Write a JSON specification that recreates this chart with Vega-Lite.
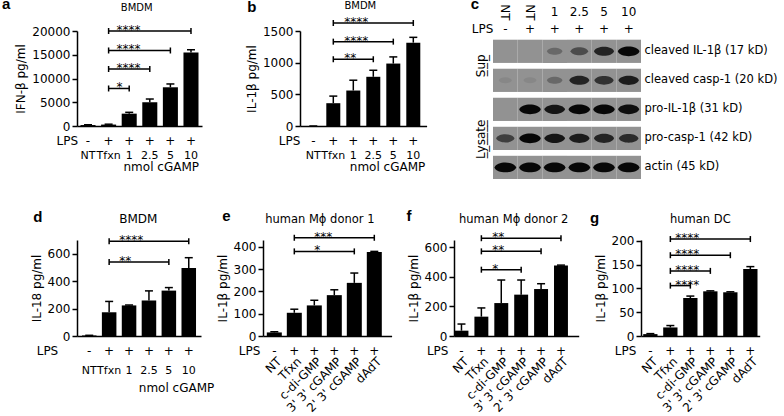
{
  "$schema": "https://vega.github.io/schema/vega-lite/v6.json",
  "padding": {"left": 2, "top": -3, "right": 0, "bottom": 0},
  "config": {
    "font": "DejaVu Sans",
    "view": {"stroke": null},
    "axis": {"grid": false, "domainColor": "black", "domainWidth": 1.5, "tickColor": "black", "tickWidth": 1.5, "tickSize": 5, "labelColor": "black", "titleColor": "black", "labelFont": "DejaVu Sans", "titleFont": "DejaVu Sans", "labelFontSize": 12, "titleFontSize": 12, "titleFontWeight": "normal", "labelPadding": 2, "labelOverlap": false},
    "axisX": {"ticks": false, "labelAngle": 0, "labelOverlap": false},
    "text": {"font": "DejaVu Sans", "fontSize": 12, "color": "black"}
  },
  "datasets": {
    "a": [
      {"cond": "NT", "lps": "-", "mean": 200, "hi": 260},
      {"cond": "Tfxn", "lps": "+", "mean": 300, "hi": 380},
      {"cond": "1", "lps": "+", "mean": 2600, "hi": 2880},
      {"cond": "2.5", "lps": "+", "mean": 5000, "hi": 5680},
      {"cond": "5", "lps": "+", "mean": 8150, "hi": 8850},
      {"cond": "10", "lps": "+", "mean": 15450, "hi": 16050}
    ],
    "a_sig": [
      {"from": "Tfxn", "to": "10", "y": 20000, "stars": "****"},
      {"from": "Tfxn", "to": "5", "y": 15900, "stars": "****"},
      {"from": "Tfxn", "to": "2.5", "y": 12000, "stars": "****"},
      {"from": "Tfxn", "to": "1", "y": 7900, "stars": "*"}
    ],
    "b": [
      {"cond": "NT", "lps": "-", "mean": 0, "hi": 0},
      {"cond": "Tfxn", "lps": "+", "mean": 360, "hi": 472},
      {"cond": "1", "lps": "+", "mean": 560, "hi": 723},
      {"cond": "2.5", "lps": "+", "mean": 777, "hi": 880},
      {"cond": "5", "lps": "+", "mean": 986, "hi": 1091},
      {"cond": "10", "lps": "+", "mean": 1316, "hi": 1400}
    ],
    "b_sig": [
      {"from": "Tfxn", "to": "10", "y": 1626, "stars": "****"},
      {"from": "Tfxn", "to": "5", "y": 1332, "stars": "****"},
      {"from": "Tfxn", "to": "2.5", "y": 1054, "stars": "**"}
    ],
    "d": [
      {"cond": "NT", "lps": "-", "mean": 4, "hi": 5},
      {"cond": "Tfxn", "lps": "+", "mean": 173, "hi": 252},
      {"cond": "1", "lps": "+", "mean": 223, "hi": 226},
      {"cond": "2.5", "lps": "+", "mean": 259, "hi": 329},
      {"cond": "5", "lps": "+", "mean": 331, "hi": 353},
      {"cond": "10", "lps": "+", "mean": 495, "hi": 571}
    ],
    "d_sig": [
      {"from": "Tfxn", "to": "10", "y": 690, "stars": "****"},
      {"from": "Tfxn", "to": "5", "y": 540, "stars": "**"}
    ],
    "e": [
      {"cond": "NT", "lps": "-", "mean": 16, "hi": 19},
      {"cond": "Tfxn", "lps": "+", "mean": 104, "hi": 120},
      {"cond": "c-di-GMP", "lps": "+", "mean": 137, "hi": 160},
      {"cond": "3' 3' cGAMP", "lps": "+", "mean": 183, "hi": 207},
      {"cond": "2' 3' cGAMP", "lps": "+", "mean": 238, "hi": 282},
      {"cond": "dAdT", "lps": "+", "mean": 376, "hi": 379}
    ],
    "e_sig": [
      {"from": "Tfxn", "to": "dAdT", "y": 440, "stars": "***"},
      {"from": "Tfxn", "to": "2' 3' cGAMP", "y": 379, "stars": "*"}
    ],
    "f": [
      {"cond": "NT", "lps": "-", "mean": 36, "hi": 81},
      {"cond": "Tfxn", "lps": "+", "mean": 131, "hi": 190},
      {"cond": "c-di-GMP", "lps": "+", "mean": 223, "hi": 379},
      {"cond": "3' 3' cGAMP", "lps": "+", "mean": 280, "hi": 379},
      {"cond": "2' 3' cGAMP", "lps": "+", "mean": 318, "hi": 354},
      {"cond": "dAdT", "lps": "+", "mean": 478, "hi": 480}
    ],
    "f_sig": [
      {"from": "Tfxn", "to": "dAdT", "y": 662, "stars": "**"},
      {"from": "Tfxn", "to": "2' 3' cGAMP", "y": 573, "stars": "**"},
      {"from": "Tfxn", "to": "3' 3' cGAMP", "y": 449, "stars": "*"}
    ],
    "g": [
      {"cond": "NT", "lps": "-", "mean": 4, "hi": 5},
      {"cond": "Tfxn", "lps": "+", "mean": 18, "hi": 22},
      {"cond": "c-di-GMP", "lps": "+", "mean": 80, "hi": 84},
      {"cond": "3' 3' cGAMP", "lps": "+", "mean": 94, "hi": 95},
      {"cond": "2' 3' cGAMP", "lps": "+", "mean": 92, "hi": 93},
      {"cond": "dAdT", "lps": "+", "mean": 141, "hi": 146}
    ],
    "g_sig": [
      {"from": "Tfxn", "to": "dAdT", "y": 204, "stars": "****"},
      {"from": "Tfxn", "to": "2' 3' cGAMP", "y": 170, "stars": "****"},
      {"from": "Tfxn", "to": "3' 3' cGAMP", "y": 137, "stars": "****"},
      {"from": "Tfxn", "to": "c-di-GMP", "y": 106, "stars": "****"}
    ],
    "blot": [
      {"lane": "NT-", "row": "cleaved IL-1β (17 kD)", "intensity": 0},
      {"lane": "NT+", "row": "cleaved IL-1β (17 kD)", "intensity": 0},
      {"lane": "1", "row": "cleaved IL-1β (17 kD)", "intensity": 0.3},
      {"lane": "2.5", "row": "cleaved IL-1β (17 kD)", "intensity": 0.5},
      {"lane": "5", "row": "cleaved IL-1β (17 kD)", "intensity": 0.8},
      {"lane": "10", "row": "cleaved IL-1β (17 kD)", "intensity": 1},
      {"lane": "NT-", "row": "cleaved casp-1 (20 kD)", "intensity": 0.08},
      {"lane": "NT+", "row": "cleaved casp-1 (20 kD)", "intensity": 0.08},
      {"lane": "1", "row": "cleaved casp-1 (20 kD)", "intensity": 0.3},
      {"lane": "2.5", "row": "cleaved casp-1 (20 kD)", "intensity": 0.8},
      {"lane": "5", "row": "cleaved casp-1 (20 kD)", "intensity": 0.7},
      {"lane": "10", "row": "cleaved casp-1 (20 kD)", "intensity": 0.85},
      {"lane": "NT-", "row": "pro-IL-1β (31 kD)", "intensity": 0},
      {"lane": "NT+", "row": "pro-IL-1β (31 kD)", "intensity": 1},
      {"lane": "1", "row": "pro-IL-1β (31 kD)", "intensity": 0.9},
      {"lane": "2.5", "row": "pro-IL-1β (31 kD)", "intensity": 1},
      {"lane": "5", "row": "pro-IL-1β (31 kD)", "intensity": 1},
      {"lane": "10", "row": "pro-IL-1β (31 kD)", "intensity": 0.95},
      {"lane": "NT-", "row": "pro-casp-1 (42 kD)", "intensity": 0.6},
      {"lane": "NT+", "row": "pro-casp-1 (42 kD)", "intensity": 1},
      {"lane": "1", "row": "pro-casp-1 (42 kD)", "intensity": 0.9},
      {"lane": "2.5", "row": "pro-casp-1 (42 kD)", "intensity": 0.85},
      {"lane": "5", "row": "pro-casp-1 (42 kD)", "intensity": 0.8},
      {"lane": "10", "row": "pro-casp-1 (42 kD)", "intensity": 0.75},
      {"lane": "NT-", "row": "actin (45 kD)", "intensity": 1},
      {"lane": "NT+", "row": "actin (45 kD)", "intensity": 1},
      {"lane": "1", "row": "actin (45 kD)", "intensity": 1},
      {"lane": "2.5", "row": "actin (45 kD)", "intensity": 1},
      {"lane": "5", "row": "actin (45 kD)", "intensity": 1},
      {"lane": "10", "row": "actin (45 kD)", "intensity": 1}
    ],
    "c_lanes": [
      {"lane": "NT-", "label": "NT", "lps": "-"},
      {"lane": "NT+", "label": "NT", "lps": "+"},
      {"lane": "1", "label": "1", "lps": "+"},
      {"lane": "2.5", "label": "2.5", "lps": "+"},
      {"lane": "5", "label": "5", "lps": "+"},
      {"lane": "10", "label": "10", "lps": "+"}
    ]
  },
  "spacing": 29,
  "vconcat": [
    {
      "spacing": 43,
      "hconcat": [
        {
          "width": 125, "height": 95,
          "layer": [
            {
              "data": {"name": "a"},
              "encoding": {"x": {"field": "cond", "type": "nominal", "sort": null, "title": null, "scale": {"domain": ["NT", "Tfxn", "1", "2.5", "5", "10"], "paddingInner": 0.27, "paddingOuter": 0.17}, "axis": {"labelPadding": 23, "labelFontSize": 11}}},
              "layer": [
                {"mark": {"type": "bar", "color": "black"}, "encoding": {"y": {"field": "mean", "type": "quantitative", "title": "IFN-β pg/ml", "scale": {"domain": [0, 20000], "nice": false}, "axis": {"values": [0, 5000, 10000, 15000, 20000], "format": "d", "tickCount": 20, "labelOverlap": false}}}},
                {"mark": {"type": "rule", "strokeWidth": 1.5, "color": "black"}, "encoding": {"y": {"field": "mean", "type": "quantitative", "title": "IFN-β pg/ml"}, "y2": {"field": "hi"}}},
                {"mark": {"type": "tick", "thickness": 1.5, "size": 8, "color": "black", "opacity": 1}, "encoding": {"y": {"field": "hi", "type": "quantitative", "title": "IFN-β pg/ml"}}},
                {"mark": {"type": "text", "dy": 15, "color": "black"}, "encoding": {"y": {"datum": 0}, "text": {"field": "lps"}}}
              ]
            },
            {
              "data": {"name": "a_sig"},
              "encoding": {"y": {"field": "y", "type": "quantitative", "title": "IFN-β pg/ml"}},
              "layer": [
                {"mark": {"type": "rule", "strokeWidth": 1.5, "color": "black"}, "encoding": {"x": {"field": "from", "type": "nominal", "title": null}, "x2": {"field": "to"}}},
                {"mark": {"type": "point", "shape": "M0,-1V1", "size": 36, "strokeWidth": 1.5, "color": "black", "filled": false, "opacity": 1}, "encoding": {"x": {"field": "from", "type": "nominal", "title": null}}},
                {"mark": {"type": "point", "shape": "M0,-1V1", "size": 36, "strokeWidth": 1.5, "color": "black", "filled": false, "opacity": 1}, "encoding": {"x": {"field": "to", "type": "nominal", "title": null}}},
                {"mark": {"type": "text", "align": "left", "baseline": "alphabetic", "dx": 8, "dy": 3, "color": "black"}, "encoding": {"x": {"field": "from", "type": "nominal", "title": null}, "text": {"field": "stars"}}}
              ]
            },
            {
              "data": {"values": [{}]},
              "layer": [
                {"mark": {"type": "text", "text": "a", "font": "Liberation Sans", "fontWeight": "bold", "fontSize": 15, "align": "left", "baseline": "alphabetic", "dx": -86, "dy": -22}, "encoding": {"x": {"datum": "NT"}, "y": {"datum": 20000}}},
                {"mark": {"type": "text", "text": "BMDM", "fontSize": 10, "baseline": "alphabetic", "dx": 7.5, "dy": -20}, "encoding": {"x": {"datum": "1"}, "y": {"datum": 20000}}},
                {"mark": {"type": "text", "text": "LPS", "align": "right", "dx": -10, "dy": 15}, "encoding": {"x": {"datum": "NT"}, "y": {"datum": 0}}},
                {"mark": {"type": "text", "text": "nmol cGAMP", "align": "right", "dx": 8, "dy": 41}, "encoding": {"x": {"datum": "10"}, "y": {"datum": 0}}}
              ]
            }
          ]
        },
        {
          "width": 126.6, "height": 95,
          "layer": [
            {
              "data": {"name": "b"},
              "encoding": {"x": {"field": "cond", "type": "nominal", "sort": null, "title": null, "scale": {"domain": ["NT", "Tfxn", "1", "2.5", "5", "10"], "paddingInner": 0.3, "paddingOuter": 0.315}, "axis": {"labelPadding": 23, "labelFontSize": 11}}},
              "layer": [
                {"mark": {"type": "bar", "color": "black"}, "encoding": {"y": {"field": "mean", "type": "quantitative", "title": "IL-1β pg/ml", "scale": {"domain": [0, 1500], "nice": false}, "axis": {"values": [0, 500, 1000, 1500], "format": "d", "tickCount": 20, "labelOverlap": false}}}},
                {"mark": {"type": "rule", "strokeWidth": 1.5, "color": "black"}, "encoding": {"y": {"field": "mean", "type": "quantitative", "title": "IL-1β pg/ml"}, "y2": {"field": "hi"}}},
                {"mark": {"type": "tick", "thickness": 1.5, "size": 8, "color": "black", "opacity": 1}, "encoding": {"y": {"field": "hi", "type": "quantitative", "title": "IL-1β pg/ml"}}},
                {"mark": {"type": "text", "dy": 15, "color": "black"}, "encoding": {"y": {"datum": 0}, "text": {"field": "lps"}}}
              ]
            },
            {
              "data": {"name": "b_sig"},
              "encoding": {"y": {"field": "y", "type": "quantitative", "title": "IL-1β pg/ml"}},
              "layer": [
                {"mark": {"type": "rule", "strokeWidth": 1.5, "color": "black"}, "encoding": {"x": {"field": "from", "type": "nominal", "title": null}, "x2": {"field": "to"}}},
                {"mark": {"type": "point", "shape": "M0,-1V1", "size": 36, "strokeWidth": 1.5, "color": "black", "filled": false, "opacity": 1}, "encoding": {"x": {"field": "from", "type": "nominal", "title": null}}},
                {"mark": {"type": "point", "shape": "M0,-1V1", "size": 36, "strokeWidth": 1.5, "color": "black", "filled": false, "opacity": 1}, "encoding": {"x": {"field": "to", "type": "nominal", "title": null}}},
                {"mark": {"type": "text", "align": "left", "baseline": "alphabetic", "dx": 11, "dy": 3, "color": "black"}, "encoding": {"x": {"field": "from", "type": "nominal", "title": null}, "text": {"field": "stars"}}}
              ]
            },
            {
              "data": {"values": [{}]},
              "layer": [
                {"mark": {"type": "text", "text": "b", "font": "Liberation Sans", "fontWeight": "bold", "fontSize": 15, "align": "left", "baseline": "alphabetic", "dx": -66, "dy": -19.5}, "encoding": {"x": {"datum": "NT"}, "y": {"datum": 1500}}},
                {"mark": {"type": "text", "text": "BMDM", "fontSize": 10, "baseline": "alphabetic", "dx": 7, "dy": -22}, "encoding": {"x": {"datum": "1"}, "y": {"datum": 1500}}},
                {"mark": {"type": "text", "text": "LPS", "align": "right", "dx": -13, "dy": 15}, "encoding": {"x": {"datum": "NT"}, "y": {"datum": 0}}},
                {"mark": {"type": "text", "text": "nmol cGAMP", "align": "right", "dx": 12, "dy": 41}, "encoding": {"x": {"datum": "10"}, "y": {"datum": 0}}}
              ]
            }
          ]
        },
        {
          "width": 148, "height": 148,
          "layer": [
            {
              "data": {"name": "blot"},
              "mark": {"type": "rect", "color": "#929292"},
              "encoding": {
                "x": {"field": "lane", "type": "nominal", "sort": null, "title": null, "scale": {"domain": ["NT-", "NT+", "1", "2.5", "5", "10"], "paddingInner": 0, "paddingOuter": 0}, "axis": null},
                "y": {"field": "row", "type": "nominal", "sort": null, "title": null, "scale": {"domain": ["cleaved IL-1β (17 kD)", "cleaved casp-1 (20 kD)", "pro-IL-1β (31 kD)", "pro-casp-1 (42 kD)", "actin (45 kD)"], "paddingInner": 0.2, "paddingOuter": 0.15, "align": 1}, "axis": {"orient": "right", "domain": false, "ticks": false, "labelPadding": 3, "labelFontSize": 11.5}}
              }
            },
            {
              "data": {"name": "blot"},
              "mark": {"type": "point", "shape": "M-1,0C-0.8,-0.6 0.8,-0.6 1,0C0.8,0.6 -0.8,0.6 -1,0Z", "filled": true, "color": "black", "strokeWidth": 0},
              "encoding": {
                "x": {"field": "lane", "type": "nominal", "title": null},
                "y": {"field": "row", "type": "nominal", "title": null},
                "size": {"field": "intensity", "type": "quantitative", "scale": {"domain": [0, 1], "range": [150, 470]}, "legend": null},
                "opacity": {"field": "intensity", "type": "quantitative", "scale": {"domain": [0, 1], "range": [0, 0.95]}, "legend": null}
              }
            },
            {
              "data": {"name": "c_lanes"},
              "transform": [{"filter": "datum.label === 'NT'"}],
              "mark": {"type": "text", "angle": 90, "dx": -39},
              "encoding": {
                "x": {"field": "lane", "type": "nominal", "title": null},
                "y": {"datum": "cleaved IL-1β (17 kD)"},
                "text": {"field": "label"}
              }
            },
            {
              "data": {"name": "c_lanes"},
              "transform": [{"filter": "datum.label !== 'NT'"}],
              "mark": {"type": "text", "dy": -39},
              "encoding": {
                "x": {"field": "lane", "type": "nominal", "title": null},
                "y": {"datum": "cleaved IL-1β (17 kD)"},
                "text": {"field": "label"}
              }
            },
            {
              "data": {"name": "c_lanes"},
              "mark": {"type": "text", "dy": -22},
              "encoding": {
                "x": {"field": "lane", "type": "nominal", "title": null},
                "y": {"datum": "cleaved IL-1β (17 kD)"},
                "text": {"field": "lps"}
              }
            },
            {
              "data": {"values": [{}]},
              "layer": [
                {"mark": {"type": "text", "text": "c", "font": "Liberation Sans", "fontWeight": "bold", "fontSize": 15, "align": "left", "baseline": "alphabetic", "dx": -34.7, "dy": -42.3}, "encoding": {"x": {"datum": "NT-"}, "y": {"datum": "cleaved IL-1β (17 kD)"}}},
                {"mark": {"type": "text", "text": "LPS", "align": "right", "dx": -12, "dy": -22}, "encoding": {"x": {"datum": "NT-"}, "y": {"datum": "cleaved IL-1β (17 kD)"}}},
                {"mark": {"type": "text", "text": "S̲u̲p̲", "angle": 270, "dx": -14.5, "dy": -24.5}, "encoding": {"x": {"datum": "NT-"}, "y": {"datum": "cleaved IL-1β (17 kD)"}}},
                {"mark": {"type": "text", "text": "L̲y̲s̲a̲t̲e̲", "angle": 270, "dx": -1, "dy": -24.5}, "encoding": {"x": {"datum": "NT-"}, "y": {"datum": "pro-casp-1 (42 kD)"}}}
              ]
            }
          ]
        }
      ]
    },
    {
      "spacing": 62,
      "bounds": "flush",
      "hconcat": [
        {
          "width": 124, "height": 96,
          "layer": [
            {
              "data": {"name": "d"},
              "encoding": {"x": {"field": "cond", "type": "nominal", "sort": null, "title": null, "scale": {"domain": ["NT", "Tfxn", "1", "2.5", "5", "10"], "paddingInner": 0.27, "paddingOuter": 0.25}, "axis": {"labelPadding": 28.5, "labelFontSize": 11}}},
              "layer": [
                {"mark": {"type": "bar", "color": "black"}, "encoding": {"y": {"field": "mean", "type": "quantitative", "title": "IL-18 pg/ml", "scale": {"domain": [0, 700], "nice": false}, "axis": {"values": [0, 200, 400, 600], "format": "d", "tickCount": 20, "labelOverlap": false}}}},
                {"mark": {"type": "rule", "strokeWidth": 1.5, "color": "black"}, "encoding": {"y": {"field": "mean", "type": "quantitative", "title": "IL-18 pg/ml"}, "y2": {"field": "hi"}}},
                {"mark": {"type": "tick", "thickness": 1.5, "size": 8, "color": "black", "opacity": 1}, "encoding": {"y": {"field": "hi", "type": "quantitative", "title": "IL-18 pg/ml"}}},
                {"mark": {"type": "text", "dy": 15.3, "color": "black"}, "encoding": {"y": {"datum": 0}, "text": {"field": "lps"}}}
              ]
            },
            {
              "data": {"name": "d_sig"},
              "encoding": {"y": {"field": "y", "type": "quantitative", "title": "IL-18 pg/ml"}},
              "layer": [
                {"mark": {"type": "rule", "strokeWidth": 1.5, "color": "black"}, "encoding": {"x": {"field": "from", "type": "nominal", "title": null}, "x2": {"field": "to"}}},
                {"mark": {"type": "point", "shape": "M0,-1V1", "size": 36, "strokeWidth": 1.5, "color": "black", "filled": false, "opacity": 1}, "encoding": {"x": {"field": "from", "type": "nominal", "title": null}}},
                {"mark": {"type": "point", "shape": "M0,-1V1", "size": 36, "strokeWidth": 1.5, "color": "black", "filled": false, "opacity": 1}, "encoding": {"x": {"field": "to", "type": "nominal", "title": null}}},
                {"mark": {"type": "text", "align": "left", "baseline": "alphabetic", "dx": 10, "dy": 3, "color": "black"}, "encoding": {"x": {"field": "from", "type": "nominal", "title": null}, "text": {"field": "stars"}}}
              ]
            },
            {
              "data": {"values": [{}]},
              "layer": [
                {"mark": {"type": "text", "text": "d", "font": "Liberation Sans", "fontWeight": "bold", "fontSize": 15, "align": "left", "baseline": "alphabetic", "dx": -56, "dy": -18.3}, "encoding": {"x": {"datum": "NT"}, "y": {"datum": 700}}},
                {"mark": {"type": "text", "text": "BMDM", "fontSize": 12, "baseline": "alphabetic", "dx": 9.2, "dy": -16.7}, "encoding": {"x": {"datum": "1"}, "y": {"datum": 700}}},
                {"mark": {"type": "text", "text": "LPS", "align": "right", "dx": -31, "dy": 15.3}, "encoding": {"x": {"datum": "NT"}, "y": {"datum": 0}}},
                {"mark": {"type": "text", "text": "nmol cGAMP", "align": "right", "dx": 25.5, "dy": 51.5}, "encoding": {"x": {"datum": "10"}, "y": {"datum": 0}}}
              ]
            }
          ]
        },
        {
          "width": 128.6, "height": 96,
          "layer": [
            {
              "data": {"name": "e"},
              "encoding": {"x": {"field": "cond", "type": "nominal", "sort": null, "title": null, "scale": {"domain": ["NT", "Tfxn", "c-di-GMP", "3' 3' cGAMP", "2' 3' cGAMP", "dAdT"], "paddingInner": 0.25, "paddingOuter": 0.34, "align": 0.28}, "axis": {"labelAngle": -45, "labelAlign": "right", "labelBaseline": "middle", "labelPadding": 23, "labelOffset": 5}}},
              "layer": [
                {"mark": {"type": "bar", "color": "black"}, "encoding": {"y": {"field": "mean", "type": "quantitative", "title": "IL-1β pg/ml", "scale": {"domain": [0, 430], "nice": false}, "axis": {"values": [0, 100, 200, 300, 400], "format": "d", "tickCount": 20, "labelOverlap": false}}}},
                {"mark": {"type": "rule", "strokeWidth": 1.5, "color": "black"}, "encoding": {"y": {"field": "mean", "type": "quantitative", "title": "IL-1β pg/ml"}, "y2": {"field": "hi"}}},
                {"mark": {"type": "tick", "thickness": 1.5, "size": 8, "color": "black", "opacity": 1}, "encoding": {"y": {"field": "hi", "type": "quantitative", "title": "IL-1β pg/ml"}}},
                {"mark": {"type": "text", "dy": 14.7, "color": "black"}, "encoding": {"y": {"datum": 0}, "text": {"field": "lps"}}}
              ]
            },
            {
              "data": {"name": "e_sig"},
              "encoding": {"y": {"field": "y", "type": "quantitative", "title": "IL-1β pg/ml"}},
              "layer": [
                {"mark": {"type": "rule", "strokeWidth": 1.5, "color": "black"}, "encoding": {"x": {"field": "from", "type": "nominal", "title": null}, "x2": {"field": "to"}}},
                {"mark": {"type": "point", "shape": "M0,-1V1", "size": 36, "strokeWidth": 1.5, "color": "black", "filled": false, "opacity": 1}, "encoding": {"x": {"field": "from", "type": "nominal", "title": null}}},
                {"mark": {"type": "point", "shape": "M0,-1V1", "size": 36, "strokeWidth": 1.5, "color": "black", "filled": false, "opacity": 1}, "encoding": {"x": {"field": "to", "type": "nominal", "title": null}}},
                {"mark": {"type": "text", "align": "left", "baseline": "alphabetic", "dx": 20, "dy": 3, "color": "black"}, "encoding": {"x": {"field": "from", "type": "nominal", "title": null}, "text": {"field": "stars"}}}
              ]
            },
            {
              "data": {"values": [{}]},
              "layer": [
                {"mark": {"type": "text", "text": "e", "font": "Liberation Sans", "fontWeight": "bold", "fontSize": 15, "align": "left", "baseline": "alphabetic", "dx": -52, "dy": -19.3}, "encoding": {"x": {"datum": "NT"}, "y": {"datum": 430}}},
                {"mark": {"type": "text", "text": "human Mϕ donor 1", "fontSize": 11.5, "baseline": "alphabetic", "dx": 5.5, "dy": -17}, "encoding": {"x": {"datum": "c-di-GMP"}, "y": {"datum": 430}}},
                {"mark": {"type": "text", "text": "LPS", "align": "right", "dx": -14, "dy": 14.7}, "encoding": {"x": {"datum": "NT"}, "y": {"datum": 0}}}
              ]
            }
          ]
        },
        {
          "width": 124.7, "height": 96,
          "layer": [
            {
              "data": {"name": "f"},
              "encoding": {"x": {"field": "cond", "type": "nominal", "sort": null, "title": null, "scale": {"domain": ["NT", "Tfxn", "c-di-GMP", "3' 3' cGAMP", "2' 3' cGAMP", "dAdT"], "paddingInner": 0.3, "paddingOuter": 0.283, "align": 0.045}, "axis": {"labelAngle": -45, "labelAlign": "right", "labelBaseline": "middle", "labelPadding": 23, "labelOffset": 5}}},
              "layer": [
                {"mark": {"type": "bar", "color": "black"}, "encoding": {"y": {"field": "mean", "type": "quantitative", "title": "IL-1β pg/ml", "scale": {"domain": [0, 650], "nice": false}, "axis": {"values": [0, 200, 400, 600], "format": "d", "tickCount": 20, "labelOverlap": false}}}},
                {"mark": {"type": "rule", "strokeWidth": 1.5, "color": "black"}, "encoding": {"y": {"field": "mean", "type": "quantitative", "title": "IL-1β pg/ml"}, "y2": {"field": "hi"}}},
                {"mark": {"type": "tick", "thickness": 1.5, "size": 8, "color": "black", "opacity": 1}, "encoding": {"y": {"field": "hi", "type": "quantitative", "title": "IL-1β pg/ml"}}},
                {"mark": {"type": "text", "dy": 14.7, "color": "black"}, "encoding": {"y": {"datum": 0}, "text": {"field": "lps"}}}
              ]
            },
            {
              "data": {"name": "f_sig"},
              "encoding": {"y": {"field": "y", "type": "quantitative", "title": "IL-1β pg/ml"}},
              "layer": [
                {"mark": {"type": "rule", "strokeWidth": 1.5, "color": "black"}, "encoding": {"x": {"field": "from", "type": "nominal", "title": null}, "x2": {"field": "to"}}},
                {"mark": {"type": "point", "shape": "M0,-1V1", "size": 36, "strokeWidth": 1.5, "color": "black", "filled": false, "opacity": 1}, "encoding": {"x": {"field": "from", "type": "nominal", "title": null}}},
                {"mark": {"type": "point", "shape": "M0,-1V1", "size": 36, "strokeWidth": 1.5, "color": "black", "filled": false, "opacity": 1}, "encoding": {"x": {"field": "to", "type": "nominal", "title": null}}},
                {"mark": {"type": "text", "align": "left", "baseline": "alphabetic", "dx": 11, "dy": 3, "color": "black"}, "encoding": {"x": {"field": "from", "type": "nominal", "title": null}, "text": {"field": "stars"}}}
              ]
            },
            {
              "data": {"values": [{}]},
              "layer": [
                {"mark": {"type": "text", "text": "f", "font": "Liberation Sans", "fontWeight": "bold", "fontSize": 15, "align": "left", "baseline": "alphabetic", "dx": -55, "dy": -19.3}, "encoding": {"x": {"datum": "NT"}, "y": {"datum": 650}}},
                {"mark": {"type": "text", "text": "human Mϕ donor 2", "fontSize": 11.5, "baseline": "alphabetic", "dx": 12.4, "dy": -17}, "encoding": {"x": {"datum": "c-di-GMP"}, "y": {"datum": 650}}},
                {"mark": {"type": "text", "text": "LPS", "align": "right", "dx": -13, "dy": 14.7}, "encoding": {"x": {"datum": "NT"}, "y": {"datum": 0}}}
              ]
            }
          ]
        },
        {
          "width": 118.7, "height": 96,
          "layer": [
            {
              "data": {"name": "g"},
              "encoding": {"x": {"field": "cond", "type": "nominal", "sort": null, "title": null, "scale": {"domain": ["NT", "Tfxn", "c-di-GMP", "3' 3' cGAMP", "2' 3' cGAMP", "dAdT"], "paddingInner": 0.285, "paddingOuter": 0.11}, "axis": {"labelAngle": -45, "labelAlign": "right", "labelBaseline": "middle", "labelPadding": 23, "labelOffset": 5}}},
              "layer": [
                {"mark": {"type": "bar", "color": "black"}, "encoding": {"y": {"field": "mean", "type": "quantitative", "title": "IL-1β pg/ml", "scale": {"domain": [0, 202], "nice": false}, "axis": {"values": [0, 50, 100, 150, 200], "format": "d", "tickCount": 20, "labelOverlap": false}}}},
                {"mark": {"type": "rule", "strokeWidth": 1.5, "color": "black"}, "encoding": {"y": {"field": "mean", "type": "quantitative", "title": "IL-1β pg/ml"}, "y2": {"field": "hi"}}},
                {"mark": {"type": "tick", "thickness": 1.5, "size": 8, "color": "black", "opacity": 1}, "encoding": {"y": {"field": "hi", "type": "quantitative", "title": "IL-1β pg/ml"}}},
                {"mark": {"type": "text", "dy": 14.7, "color": "black"}, "encoding": {"y": {"datum": 0}, "text": {"field": "lps"}}}
              ]
            },
            {
              "data": {"name": "g_sig"},
              "encoding": {"y": {"field": "y", "type": "quantitative", "title": "IL-1β pg/ml"}},
              "layer": [
                {"mark": {"type": "rule", "strokeWidth": 1.5, "color": "black"}, "encoding": {"x": {"field": "from", "type": "nominal", "title": null}, "x2": {"field": "to"}}},
                {"mark": {"type": "point", "shape": "M0,-1V1", "size": 36, "strokeWidth": 1.5, "color": "black", "filled": false, "opacity": 1}, "encoding": {"x": {"field": "from", "type": "nominal", "title": null}}},
                {"mark": {"type": "point", "shape": "M0,-1V1", "size": 36, "strokeWidth": 1.5, "color": "black", "filled": false, "opacity": 1}, "encoding": {"x": {"field": "to", "type": "nominal", "title": null}}},
                {"mark": {"type": "text", "align": "left", "baseline": "alphabetic", "dx": 5, "dy": 3, "color": "black"}, "encoding": {"x": {"field": "from", "type": "nominal", "title": null}, "text": {"field": "stars"}}}
              ]
            },
            {
              "data": {"values": [{}]},
              "layer": [
                {"mark": {"type": "text", "text": "g", "font": "Liberation Sans", "fontWeight": "bold", "fontSize": 15, "align": "left", "baseline": "alphabetic", "dx": -60.3, "dy": -17}, "encoding": {"x": {"datum": "NT"}, "y": {"datum": 202}}},
                {"mark": {"type": "text", "text": "human DC", "fontSize": 11.5, "baseline": "alphabetic", "dx": 10, "dy": -17.3}, "encoding": {"x": {"datum": "c-di-GMP"}, "y": {"datum": 202}}},
                {"mark": {"type": "text", "text": "LPS", "align": "right", "dx": -14, "dy": 14.7}, "encoding": {"x": {"datum": "NT"}, "y": {"datum": 0}}}
              ]
            }
          ]
        }
      ]
    }
  ]
}
